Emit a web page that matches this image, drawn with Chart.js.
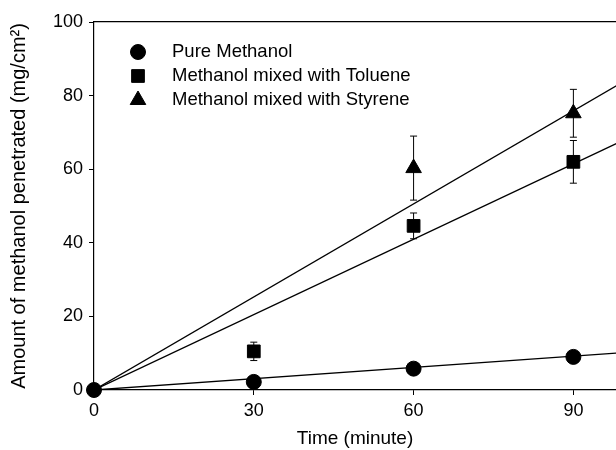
<!DOCTYPE html>
<html>
<head>
<meta charset="utf-8">
<script src="https://cdn.jsdelivr.net/npm/chart.js@4/dist/chart.umd.min.js"></script>
<style>
  html, body { margin: 0; padding: 0; background: #fff; }
  #wrap { width: 616px; height: 450px; }
</style>
</head>
<body>
<div id="wrap"><canvas id="chart" width="616" height="450"></canvas></div>
<script>
// values (only the circle is visible at the origin)
var timePoints = [0, 30, 60, 90];
var pureMethanol = [0, 2.2, 5.8, 9.0];
var pureErr = [0, 0, 0, 0];
var withToluene = [null, 10.5, 44.6, 62.0];
var tolueneErr = [0, 2.5, 3.5, 5.8];
var withStyrene = [null, null, 60.3, 75.2];
var styreneErr = [0, 0, 8.7, 6.5];

// fitted lines through origin (end points)
var fitTime = [0, 100];
var pureFit = [0, 10.2];
var tolueneFit = [0, 68.3];
var styreneFit = [0, 84.3];

var xTicks = [0, 30, 60, 90];
var yTicks = [0, 20, 40, 60, 80, 100];

var seriesNames = ['Pure Methanol', 'Methanol mixed with Toluene', 'Methanol mixed with Styrene'];

var fontFamily = '"Liberation Sans", Arial, Helvetica, sans-serif';

function pts(xs, ys) {
	var out = [];
	for (var i = 0; i < xs.length; i++) {
		if (ys[i] !== null) out.push({x: xs[i], y: ys[i]});
	}
	return out;
}

function markerSet(label, ys, errs, style, r, order) {
	return {
		type: 'scatter',
		label: label,
		data: pts(timePoints, ys),
		errors: errs,
		pointStyle: style,
		pointRadius: r,
		pointBackgroundColor: '#000',
		pointBorderColor: '#000',
		pointBorderWidth: 1,
		showLine: false,
		clip: false,
		order: order,
		isMarker: true
	};
}

function fitSet(ys) {
	return {
		type: 'line',
		data: pts(fitTime, ys),
		borderColor: '#000',
		borderWidth: 1.3,
		pointRadius: 0,
		fill: false,
		order: 5
	};
}

// error bars behind the markers
var errorBars = {
	id: 'errorBars',
	beforeDatasetsDraw: function(chart) {
		var ctx = chart.ctx;
		var xs = chart.scales.x, ys = chart.scales.y;
		ctx.save();
		ctx.strokeStyle = '#000';
		ctx.lineWidth = 1;
		chart.data.datasets.forEach(function(ds) {
			if (!ds.errors) return;
			ds.data.forEach(function(p) {
				var i = timePoints.indexOf(p.x);
				var e = ds.errors[i];
				if (!e) return;
				var px = xs.getPixelForValue(p.x);
				var top = ys.getPixelForValue(p.y + e);
				var bot = ys.getPixelForValue(p.y - e);
				ctx.beginPath();
				ctx.moveTo(px, top); ctx.lineTo(px, bot);
				ctx.moveTo(px - 3.5, top); ctx.lineTo(px + 3.5, top);
				ctx.moveTo(px - 3.5, bot); ctx.lineTo(px + 3.5, bot);
				ctx.stroke();
			});
		});
		ctx.restore();
	}
};

// legend inside the plot, top left
var innerLegend = {
	id: 'innerLegend',
	afterDraw: function(chart) {
		var ctx = chart.ctx;
		var row = 0;
		ctx.save();
		ctx.font = '18.5px ' + fontFamily;
		ctx.textBaseline = 'middle';
		ctx.fillStyle = '#000';
		ctx.strokeStyle = '#000';
		chart.data.datasets.forEach(function(ds) {
			if (!ds.isMarker) return;
			var y = 52 + row * 24;
			Chart.helpers.drawPoint(ctx, {pointStyle: ds.pointStyle, radius: ds.pointRadius, rotation: 0, borderWidth: 1}, 138, y);
			ctx.fillText(ds.label, 172, y);
			row++;
		});
		ctx.restore();
	}
};

var ctx = document.getElementById('chart');

var myChart = new Chart(ctx, {
	data: {
		datasets: [
			markerSet(seriesNames[0], pureMethanol, pureErr, 'circle', 7.5, 0),
			markerSet(seriesNames[1], withToluene, tolueneErr, 'rect', 9, 1),
			markerSet(seriesNames[2], withStyrene, styreneErr, 'triangle', 9, 2),
			fitSet(pureFit),
			fitSet(tolueneFit),
			fitSet(styreneFit)
		]
	},
	options: {
		responsive: false,
		animation: false,
		layout: { padding: 0, autoPadding: false },
		plugins: {
			legend: { display: false },
			tooltip: { enabled: false }
		},
		scales: {
			x: {
				type: 'linear',
				position: 'bottom',
				min: 0,
				max: 98,
				afterBuildTicks: function(scale) {
					scale.ticks = xTicks.map(function(v) { return {value: v}; });
				},
				afterFit: function(scale) {
					scale.height = 60;
					scale.paddingRight = 0;
					scale.paddingLeft = 0;
				},
				grid: { display: true, drawOnChartArea: false, drawTicks: true, tickLength: 5, color: '#000' },
				border: { display: true, color: '#000', width: 1.2 },
				ticks: { color: '#000', padding: 5, maxRotation: 0, font: { family: fontFamily, size: 18 } },
				title: {
					display: true,
					text: 'Time (minute)',
					color: '#000',
					padding: { top: 0, bottom: 0 },
					font: { family: fontFamily, size: 19 }
				}
			},
			x2: {
				type: 'linear',
				position: 'top',
				min: 0,
				max: 98,
				afterFit: function(scale) {
					scale.height = 22;
					scale.paddingRight = 0;
					scale.paddingLeft = 0;
				},
				grid: { display: false },
				border: { display: true, color: '#000', width: 1.2 },
				ticks: { display: false }
			},
			y: {
				min: 0,
				max: 100,
				afterBuildTicks: function(scale) {
					scale.ticks = yTicks.map(function(v) { return {value: v}; });
				},
				afterFit: function(scale) { scale.width = 94; },
				grid: { display: true, drawOnChartArea: false, drawTicks: true, tickLength: 5, color: '#000' },
				border: { display: true, color: '#000', width: 1.2 },
				ticks: { color: '#000', padding: 6, font: { family: fontFamily, size: 18 } },
				title: {
					display: true,
					text: 'Amount of methanol penetrated (mg/cm²)',
					color: '#000',
					padding: { top: 7, bottom: 0 },
					font: { family: fontFamily, size: 20 }
				}
			}
		}
	},
	plugins: [errorBars, innerLegend]
});
</script>
</body>
</html>
